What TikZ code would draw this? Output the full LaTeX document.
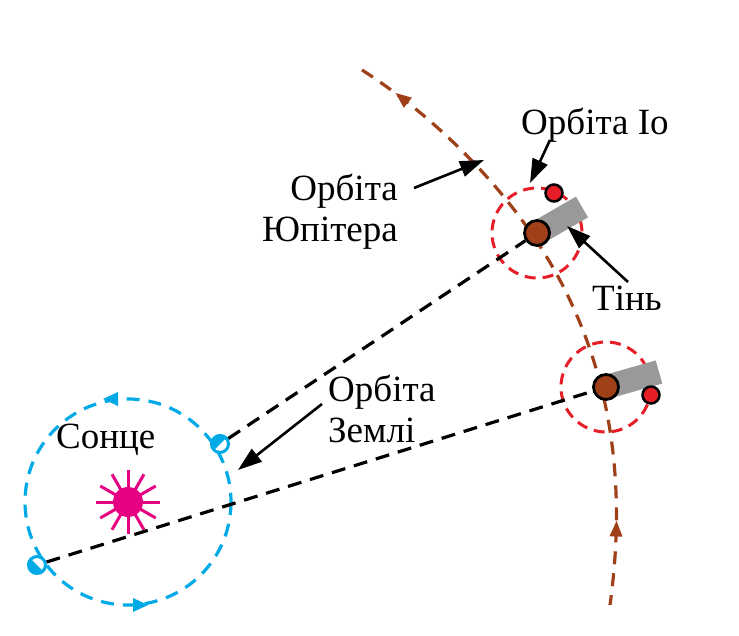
\documentclass[tikz,border=0pt]{standalone}
\usepackage{fontspec}
\setmainfont{Liberation Serif}
\usetikzlibrary{arrows.meta,decorations.markings}
\definecolor{jup}{RGB}{160,64,24}
\definecolor{sky}{RGB}{0,170,230}
\definecolor{iored}{RGB}{230,30,40}
\definecolor{sunc}{RGB}{230,0,130}
\begin{document}
\begin{tikzpicture}[x=1pt,y=-1pt,
 lbl/.style={font=\fontsize{37}{41}\selectfont,inner sep=0pt,align=left},
 ptr/.style={-{Triangle[length=24pt,width=16pt]},line width=2.6pt},
 sight/.style={dash pattern=on 14pt off 9pt,line width=3.2pt},
 planet/.style={circle,draw=black,line width=2.8pt,fill=jup,minimum size=25pt,inner sep=0pt},
 io/.style={circle,draw=black,line width=2.5pt,fill=iored,minimum size=17pt,inner sep=0pt},
 ioorb/.style={draw=iored,dash pattern=on 11pt off 7pt,line width=3pt},
 shadow/.style={line width=24pt,draw=gray!80}]
\useasboundingbox (0,0) rectangle (739,636);
% Earth orbit
\coordinate (sun) at (128,502);
\draw[sky,line width=3.2pt,dash pattern=on 13pt off 9pt] (sun) circle (103);
\fill[sky] (103,399)--(118,392)--(118,406)--cycle;
\fill[sky] (148,605)--(133,598)--(133,612)--cycle;
% Sun
\foreach \a in {0,30,...,330}\draw[sunc,line width=3pt] (sun)--++(\a:32);
\node[circle,fill=sunc,minimum size=30pt,inner sep=0pt] (sunn) at (sun) {};
% Jupiter orbit
\draw[jup,line width=3.2pt,dash pattern=on 13pt off 9pt,
 postaction={decorate},decoration={markings,
 mark=at position 0.09 with {\arrow{Triangle[length=16pt,width=12pt,reversed]}},
 mark=at position 0.89 with {\arrow{Triangle[length=16pt,width=12pt,reversed]}}}]
 (362,70) .. controls (440,120) and (520,200) .. (565,290) .. controls (600,360) and (630,460) .. (610,605);
% Jupiter 1
\coordinate (j1) at (537,233);
\draw[ioorb] (j1) circle (45);
\draw[shadow] (j1)--(582,207);
\node[planet] (jup1) at (j1) {};
\node[io] (io1) at (554,193) {};
% Jupiter 2
\coordinate (j2) at (606,387);
\draw[ioorb] (j2) circle (45);
\draw[shadow] (j2)--(659,372);
\node[planet] (jup2) at (j2) {};
\node[io] (io2) at (651,395) {};
% Earths
\node[circle,draw=sky,line width=3pt,minimum size=17pt,inner sep=0pt] (e1) at (220,444) {};
\fill[sky] (e1.north east) arc (45:225:8.5pt)--cycle;
\node[circle,draw=sky,line width=3pt,minimum size=17pt,inner sep=0pt] (e2) at (37,565) {};
\fill[sky] (e2.north west) arc (135:315:8.5pt)--cycle;
% sight lines
\draw[sight] (e1)--(jup1);
\draw[sight] (e2)--(jup2);
% labels
\node[lbl,anchor=west] (lio) at (521,125) {Орбіта Іо};
\coordinate (tio) at (530,183);
\draw[ptr] (550,140)--(tio);
\node[lbl,align=right,anchor=east] (ljup) at (398,212) {Орбіта\\Юпітера};
\coordinate (tjup) at (484,160);
\draw[ptr] (414,188)--(tjup);
\node[lbl,anchor=west] (lsh) at (592,298) {Тінь};
\coordinate (tsh) at (567,226);
\draw[ptr] (628,282)--(tsh);
\node[lbl,anchor=west] (lz) at (328,409) {Орбіта\\Землі};
\coordinate (tz) at (238,470);
\draw[ptr] (322,404)--(tz);
\node[lbl,anchor=west] (ls) at (56,440) {Сонце};
\end{tikzpicture}
\end{document}
